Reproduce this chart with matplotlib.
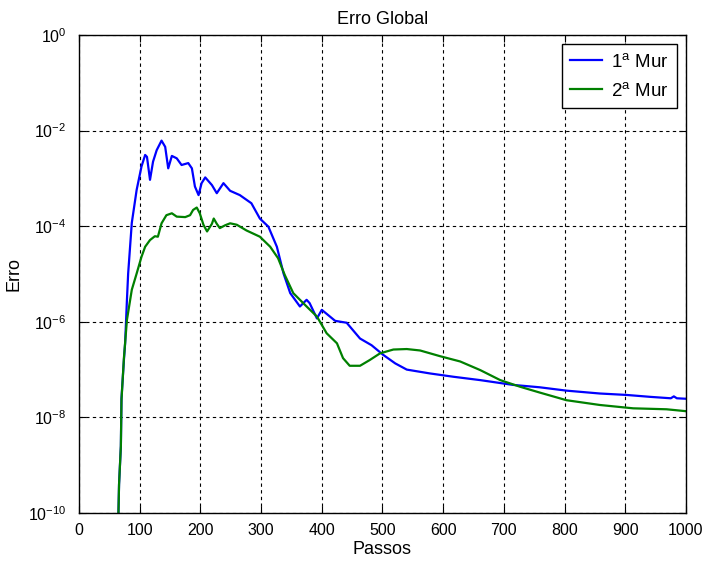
import numpy as np
import matplotlib
matplotlib.use("Agg")
import matplotlib.pyplot as plt

plt.rcParams['font.family'] = ['Liberation Sans', 'DejaVu Sans']
plt.rcParams['mathtext.default'] = 'regular'
plt.rcParams['font.size'] = 10

# passos e expoentes (log10 do erro)
passos_1 = [64, 66, 69, 70, 74, 76, 79, 81, 87, 95, 103, 109, 112, 117, 122, 128, 136,
            142, 147, 153, 161, 169, 180, 186, 191, 197, 202, 208, 219, 227, 238, 249,
            265, 284, 298, 312, 326, 337, 348, 364, 375, 380, 392, 400, 422, 441, 463,
            482, 501, 521, 540, 578, 617, 661, 715, 759, 803, 858, 902, 941, 975, 980,
            985, 1000]
expo_1 = [-10.6, -9.4, -8.6, -7.6, -6.8, -6.45, -5.54, -4.99, -3.93, -3.24, -2.75, -2.51,
          -2.55, -3.03, -2.65, -2.41, -2.21, -2.34, -2.79, -2.53, -2.58, -2.72, -2.68,
          -2.79, -3.17, -3.35, -3.10, -2.98, -3.14, -3.31, -3.10, -3.26, -3.35, -3.52,
          -3.84, -4.01, -4.43, -4.99, -5.40, -5.68, -5.54, -5.61, -5.93, -5.75, -5.98,
          -6.02, -6.35, -6.49, -6.69, -6.87, -7.00, -7.08, -7.15, -7.22, -7.32, -7.37,
          -7.44, -7.50, -7.53, -7.57, -7.60, -7.56, -7.60, -7.61]

passos_2 = [64, 66, 69, 70, 74, 79, 87, 95, 103, 109, 117, 125, 130, 136, 144, 153, 161,
            175, 183, 188, 194, 199, 205, 211, 219, 222, 227, 232, 241, 249, 260, 276,
            298, 315, 328, 339, 353, 375, 392, 408, 425, 435, 446, 463, 479, 496, 518,
            540, 562, 595, 628, 661, 694, 727, 759, 803, 858, 913, 968, 1000]
expo_2 = [-10.6, -9.4, -8.6, -7.64, -6.76, -5.96, -5.33, -4.99, -4.64, -4.43, -4.29,
          -4.21, -4.22, -3.94, -3.77, -3.73, -3.80, -3.81, -3.77, -3.66, -3.61, -3.73,
          -3.97, -4.11, -3.95, -3.84, -3.95, -4.04, -3.98, -3.94, -3.97, -4.09, -4.22,
          -4.43, -4.67, -5.02, -5.40, -5.68, -5.89, -6.24, -6.45, -6.76, -6.92, -6.92,
          -6.80, -6.66, -6.58, -6.57, -6.60, -6.72, -6.83, -7.01, -7.22, -7.36, -7.48,
          -7.64, -7.74, -7.81, -7.83, -7.87]

erro_1 = 10.0 ** np.array(expo_1)
erro_2 = 10.0 ** np.array(expo_2)

xticks = list(range(0, 1001, 100))
yticks = [1e-10, 1e-8, 1e-6, 1e-4, 1e-2, 1e0]
ylabels = ['$10^{-10}$', '$10^{-8}$', '$10^{-6}$', '$10^{-4}$', '$10^{-2}$', '$10^{0}$']

fig = plt.figure(figsize=(7.04, 5.64), dpi=100)
ax = fig.add_axes([0.1122, 0.0904, 0.8622, 0.8476])

ax.semilogy(passos_1, erro_1, color=(0, 0, 1), lw=1.6, label='1$^{a}$ Mur')
ax.semilogy(passos_2, erro_2, color=(0, 0.5, 0), lw=1.6, label='2$^{a}$ Mur')

ax.set_xlim(0, 1000)
ax.set_ylim(1e-10, 1e0)
ax.set_xticks(xticks)
ax.set_yticks(yticks)
ax.set_yticklabels(ylabels)
ax.yaxis.set_minor_locator(matplotlib.ticker.NullLocator())
ax.tick_params(direction='in', top=True, right=True, length=5, labelsize=11.5)
ax.tick_params(axis='x', pad=7)
ax.tick_params(axis='y', pad=9)
ax.grid(True, color='black', linestyle=(0, (3, 3)), linewidth=0.8)
for s in ax.spines.values():
    s.set_linewidth(1.0)

ax.set_title('Erro Global', fontsize=13, pad=8)
ax.set_xlabel('Passos', fontsize=13, labelpad=2)
ax.set_ylabel('Erro', fontsize=13, labelpad=4)

leg = ax.legend(loc='upper right', fancybox=False, framealpha=1, edgecolor='black',
                handlelength=1.7, handletextpad=0.45, fontsize=13.5,
                borderaxespad=0.5, labelspacing=0.6, borderpad=0.45)
leg.get_frame().set_linewidth(1.0)

fig.savefig('out.png', dpi=100)
